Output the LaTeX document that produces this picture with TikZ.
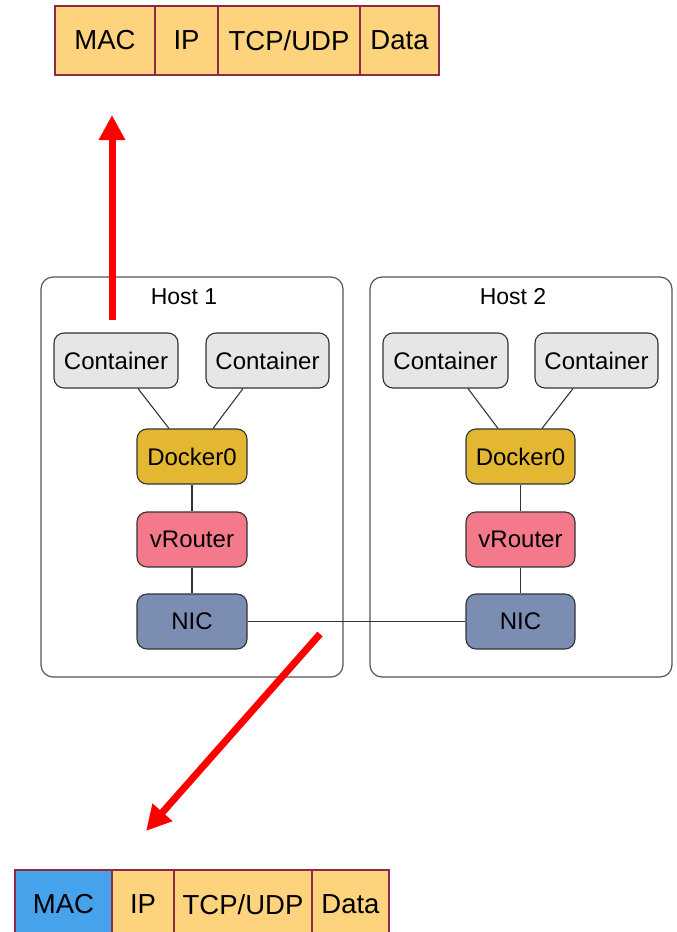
\documentclass[tikz,border=0pt]{standalone}
\usepackage{fontspec}
\setmainfont{Liberation Sans}
\usetikzlibrary{arrows.meta}

\definecolor{pktfill}{HTML}{FDD37E}
\definecolor{pktline}{HTML}{8E2B44}
\definecolor{macblue}{HTML}{47A2EC}
\definecolor{ctrfill}{HTML}{E6E6E6}
\definecolor{dockfill}{HTML}{E4B733}
\definecolor{vrfill}{HTML}{F47A8B}
\definecolor{nicfill}{HTML}{7B8DB3}
\definecolor{edge}{HTML}{333333}
\definecolor{hostline}{HTML}{555555}
\definecolor{flow}{HTML}{FF0000}

\begin{document}
\begin{tikzpicture}[x=1pt,y=-1pt,
  cell/.style={draw=pktline, line width=1.5pt, fill=pktfill, minimum height=69pt,
    inner sep=0pt, outer sep=0pt, font=\fontsize{27.5}{32}\selectfont},
  box/.style={draw=edge, line width=1.1pt, rounded corners=10pt, minimum height=55pt,
    inner sep=0pt, font=\fontsize{24}{28}\selectfont},
  ctr/.style={box, fill=ctrfill},
  dock/.style={box, fill=dockfill},
  vrt/.style={box, fill=vrfill},
  nic/.style={box, fill=nicfill},
  host/.style={draw=hostline, line width=1.2pt, rounded corners=12pt},
  hostlabel/.style={font=\fontsize{23}{27}\selectfont, inner sep=0pt},
  link/.style={draw=edge, line width=1.1pt},
  flowarrow/.style={draw=flow, line width=7pt, -{Triangle[length=25pt,width=25pt]}}
]
\useasboundingbox (0,0) rectangle (677,932);

% outgoing packet (top)
\node[cell, minimum width=100pt] (tmac) at (105,40.5) {MAC};
\node[cell, minimum width=63pt]  (tip)  at (186.5,40.5) {IP};
\node[cell, minimum width=142pt] (ttcp) at (289,40.5) {TCP/UDP};
\node[cell, minimum width=79pt]  (tdat) at (399.5,40.5) {Data};

% host frames
\draw[host] (41,277) rectangle (343,677);
\node[hostlabel] (h1) at (184,297) {Host 1};
\draw[host] (370,277) rectangle (672,677);
\node[hostlabel] (h2) at (513,297) {Host 2};

% host 1 stack
\node[ctr, minimum width=124pt] (c11) at (116,360.5) {Container};
\node[ctr, minimum width=123pt] (c12) at (267.5,360.5) {Container};
\node[dock, minimum width=110pt] (d1) at (192,456.5) {Docker0};
\node[vrt, minimum width=110pt] (v1) at (192,539.5) {vRouter};
\node[nic, minimum width=110pt] (n1) at (192,621.5) {NIC};

% host 2 stack
\node[ctr, minimum width=125pt] (c21) at (445.5,360.5) {Container};
\node[ctr, minimum width=123pt] (c22) at (596.5,360.5) {Container};
\node[dock, minimum width=109pt] (d2) at (520.5,456.5) {Docker0};
\node[vrt, minimum width=109pt] (v2) at (520.5,539.5) {vRouter};
\node[nic, minimum width=109pt] (n2) at (520.5,621.5) {NIC};

% links inside host 1
\draw[link] ([xshift=22pt]c11.south) -- ([xshift=-23pt]d1.north);
\draw[link] ([xshift=-24.5pt]c12.south) -- ([xshift=21pt]d1.north);
\draw[link] (d1) -- (v1);
\draw[link] (v1) -- (n1);

% links inside host 2
\draw[link] ([xshift=22.5pt]c21.south) -- ([xshift=-22.5pt]d2.north);
\draw[link] ([xshift=-23.5pt]c22.south) -- ([xshift=21.5pt]d2.north);
\draw[link] (d2) -- (v2);
\draw[link] (v2) -- (n2);

% wire between the two NICs
\draw[link] (n1.east) -- (n2.west);

% packet flow arrows
\coordinate (upfrom) at (112,320);
\coordinate (upto) at (112,115);
\coordinate (downfrom) at (320,634);
\coordinate (downto) at (146,831);
\draw[flowarrow] (upfrom) -- (upto);
\draw[flowarrow] (downfrom) -- (downto);

% encapsulated packet (bottom)
\node[cell, minimum width=97pt, fill=macblue] (bmac) at (63.5,904.5) {MAC};
\node[cell, minimum width=62pt]  (bip)  at (143,904.5) {IP};
\node[cell, minimum width=138pt] (btcp) at (243,904.5) {TCP/UDP};
\node[cell, minimum width=77pt]  (bdat) at (350.5,904.5) {Data};
\end{tikzpicture}
\end{document}
